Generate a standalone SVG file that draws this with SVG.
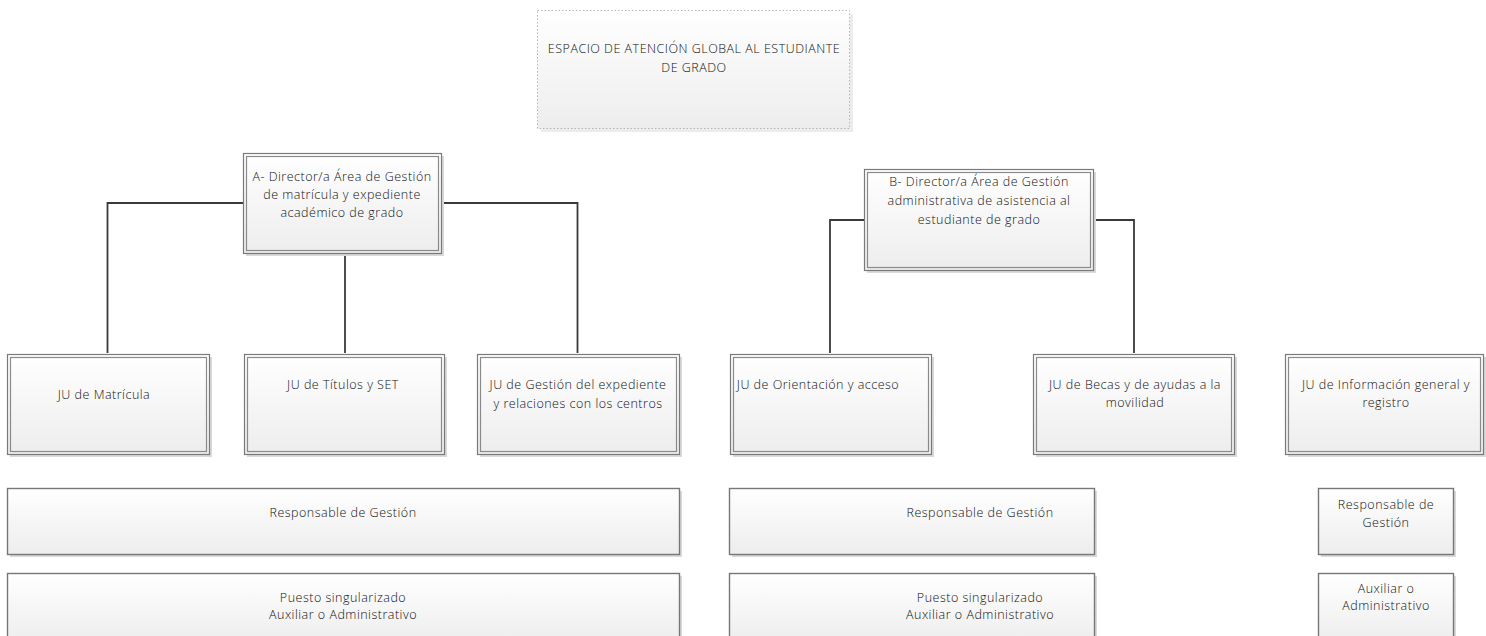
<svg xmlns="http://www.w3.org/2000/svg" width="1486" height="636" viewBox="0 0 1486 636">
  <defs>
    <linearGradient id="fill" x1="0" y1="0" x2="0" y2="1">
      <stop offset="0" stop-color="#ffffff"/>
      <stop offset="1" stop-color="#ededed"/>
    </linearGradient>
  </defs>
  <style>
    text { font-family: "Open Sans", "Liberation Sans", sans-serif; font-size: 12.5px; font-weight: 300; fill: #111; text-anchor: middle; letter-spacing: 0.5px; }
    .shadow { fill: #d9d9d9; }
    .outer { fill: url(#fill); stroke: #7a7a7a; stroke-width: 1.2; }
    .inner { fill: none; stroke: #8a8a8a; stroke-width: 1.2; }
    .single { fill: url(#fill); stroke: #777; stroke-width: 1.4; }
    .dotted { fill: url(#fill); stroke: #b5b5b5; stroke-width: 1; stroke-dasharray: 1.5 2; }
    .conn { fill: none; stroke: #3a3a3a; stroke-width: 1.8; }
  </style>
  <rect width="1486" height="636" fill="#ffffff"/>

  <!-- connectors -->
  <g id="connectors">
    <path class="conn" d="M107.5,353 V203 H577.5 V353"/>
    <path class="conn" d="M345,253 V353"/>
    <path class="conn" d="M830,353 V220 H865"/>
    <path class="conn" d="M1093,220 H1134 V353"/>
  </g>

  <!-- root -->
  <g id="root">
    <rect x="541" y="14" width="312" height="118" class="shadow" opacity="0.5"/>
    <rect x="537.5" y="10.5" width="312" height="118" class="dotted"/>
    <text x="694" y="53">ESPACIO DE ATENCIÓN GLOBAL AL ESTUDIANTE</text>
    <text x="694" y="72">DE GRADO</text>
  </g>

  <!-- area directors -->
  <g id="dirA">
    <rect x="246" y="156" width="198" height="100" class="shadow"/>
    <rect x="243.5" y="153.5" width="198" height="100" class="outer"/>
    <rect x="246.5" y="156.5" width="192" height="94" class="inner"/>
    <text x="342" y="181">A- Director/a Área de Gestión</text>
    <text x="342" y="199">de matrícula y expediente</text>
    <text x="342" y="217">académico de grado</text>
  </g>
  <g id="dirB">
    <rect x="867" y="172" width="229" height="101" class="shadow"/>
    <rect x="864.5" y="169.5" width="229" height="101" class="outer"/>
    <rect x="867.5" y="172.5" width="223" height="95" class="inner"/>
    <text x="979" y="186">B- Director/a Área de Gestión</text>
    <text x="979" y="205">administrativa de asistencia al</text>
    <text x="979" y="224">estudiante de grado</text>
  </g>

  <!-- unit heads -->
  <g id="ju-matricula">
    <rect x="10" y="357" width="202" height="100" class="shadow"/>
    <rect x="7.5" y="354.5" width="202" height="100" class="outer"/>
    <rect x="10.5" y="357.5" width="196" height="94" class="inner"/>
    <text x="104" y="399">JU de Matrícula</text>
  </g>
  <g id="ju-titulos">
    <rect x="247" y="357" width="200" height="100" class="shadow"/>
    <rect x="244.5" y="354.5" width="200" height="100" class="outer"/>
    <rect x="247.5" y="357.5" width="194" height="94" class="inner"/>
    <text x="343" y="389">JU de Títulos y SET</text>
  </g>
  <g id="ju-expediente">
    <rect x="480" y="357" width="202" height="100" class="shadow"/>
    <rect x="477.5" y="354.5" width="202" height="100" class="outer"/>
    <rect x="480.5" y="357.5" width="196" height="94" class="inner"/>
    <text x="578" y="389">JU de Gestión del expediente</text>
    <text x="578" y="408">y relaciones con los centros</text>
  </g>
  <g id="ju-orientacion">
    <rect x="733" y="357" width="201" height="100" class="shadow"/>
    <rect x="730.5" y="354.5" width="201" height="100" class="outer"/>
    <rect x="733.5" y="357.5" width="195" height="94" class="inner"/>
    <text x="818" y="389">JU de Orientación y acceso</text>
  </g>
  <g id="ju-becas">
    <rect x="1036" y="357" width="201" height="100" class="shadow"/>
    <rect x="1033.5" y="354.5" width="201" height="100" class="outer"/>
    <rect x="1036.5" y="357.5" width="195" height="94" class="inner"/>
    <text x="1135" y="389">JU de Becas y de ayudas a la</text>
    <text x="1135" y="407">movilidad</text>
  </g>
  <g id="ju-informacion">
    <rect x="1288" y="357" width="198" height="100" class="shadow"/>
    <rect x="1285.5" y="354.5" width="198" height="100" class="outer"/>
    <rect x="1288.5" y="357.5" width="192" height="94" class="inner"/>
    <text x="1386" y="389">JU de Información general y</text>
    <text x="1386" y="407">registro</text>
  </g>

  <!-- staff rows -->
  <g id="resp-a">
    <rect x="10" y="491" width="672" height="66" class="shadow"/>
    <rect x="7.5" y="488.5" width="672" height="66" class="single"/>
    <text x="343" y="517">Responsable de Gestión</text>
  </g>
  <g id="resp-b">
    <rect x="732" y="491" width="365" height="66" class="shadow"/>
    <rect x="729.5" y="488.5" width="365" height="66" class="single"/>
    <text x="980" y="517">Responsable de Gestión</text>
  </g>
  <g id="resp-c">
    <rect x="1321" y="491" width="135" height="66" class="shadow"/>
    <rect x="1318.5" y="488.5" width="135" height="66" class="single"/>
    <text x="1386" y="509">Responsable de</text>
    <text x="1386" y="527">Gestión</text>
  </g>
  <g id="aux-a">
    <rect x="10" y="576" width="672" height="70" class="shadow"/>
    <rect x="7.5" y="573.5" width="672" height="70" class="single"/>
    <text x="343" y="602">Puesto singularizado</text>
    <text x="343" y="619">Auxiliar o Administrativo</text>
  </g>
  <g id="aux-b">
    <rect x="732" y="576" width="365" height="70" class="shadow"/>
    <rect x="729.5" y="573.5" width="365" height="70" class="single"/>
    <text x="980" y="602">Puesto singularizado</text>
    <text x="980" y="619">Auxiliar o Administrativo</text>
  </g>
  <g id="aux-c">
    <rect x="1321" y="576" width="135" height="70" class="shadow"/>
    <rect x="1318.5" y="573.5" width="135" height="70" class="single"/>
    <text x="1386" y="593">Auxiliar o</text>
    <text x="1386" y="610">Administrativo</text>
  </g>
</svg>
